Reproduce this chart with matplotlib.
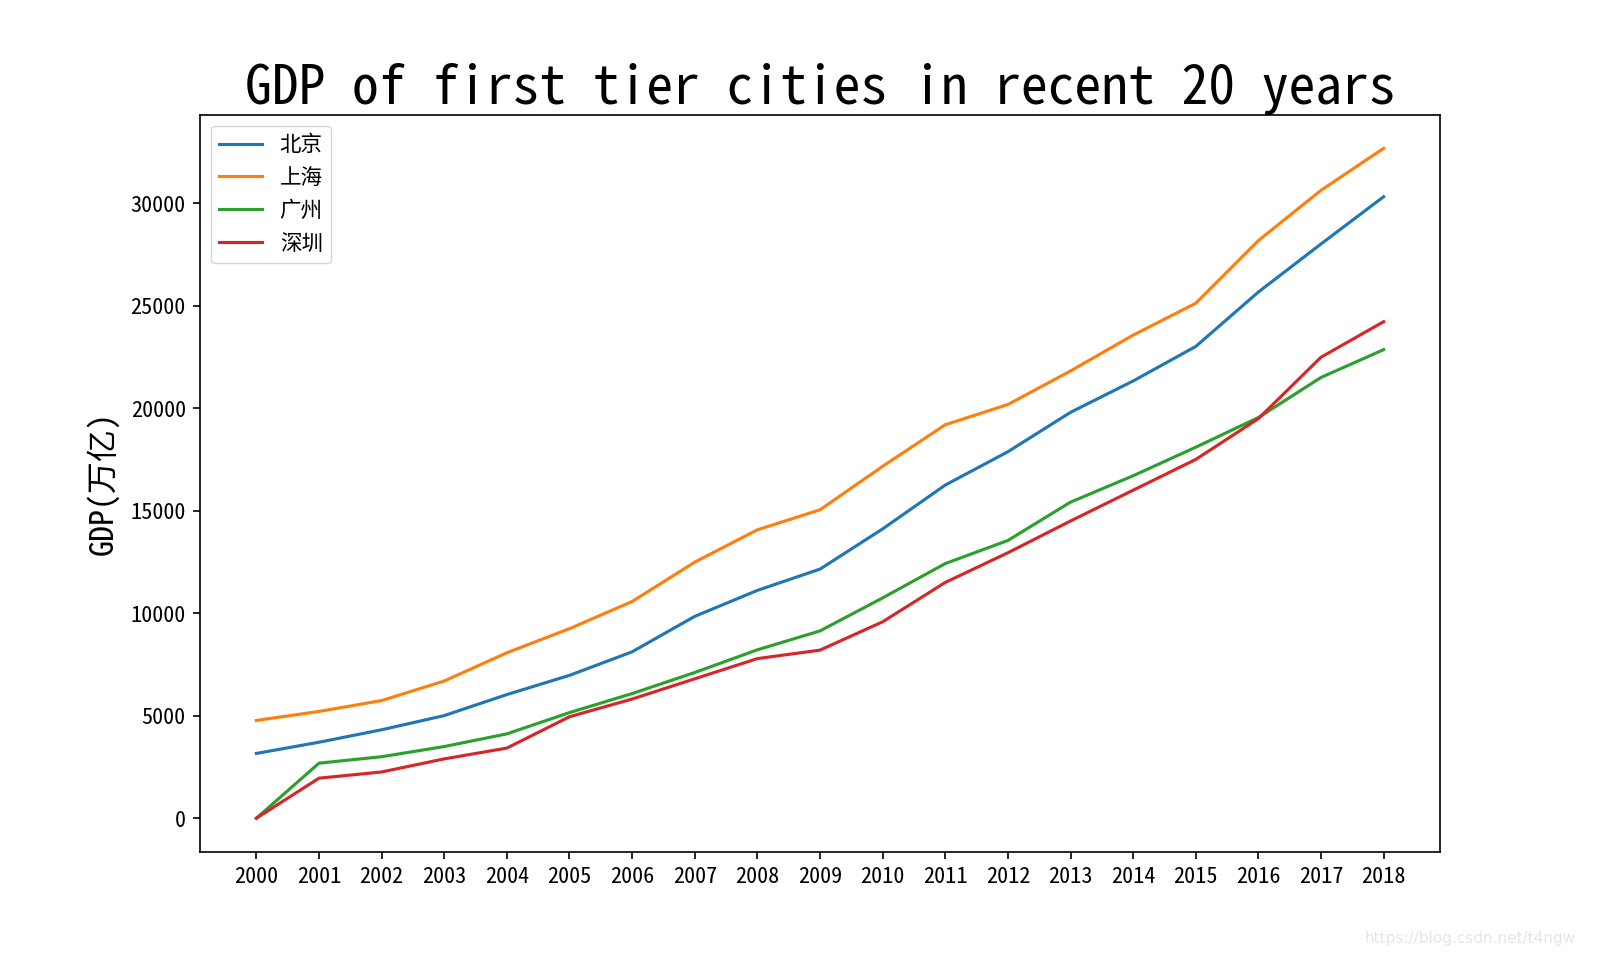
import matplotlib
matplotlib.use("Agg")
import matplotlib.pyplot as plt

plt.rcParams['font.family'] = ['Noto Sans Mono CJK SC', 'Noto Sans CJK SC', 'DejaVu Sans']
plt.rcParams['axes.unicode_minus'] = False

years = list(range(2000, 2019))
cities = ['北京', '上海', '广州', '深圳']
beijing = [3161, 3708, 4315, 5007, 6033, 6970, 8118, 9847, 11115, 12153,
           14114, 16252, 17879, 19801, 21331, 23015, 25669, 28015, 30320]
shanghai = [4771, 5210, 5741, 6694, 8073, 9248, 10572, 12494, 14070, 15046,
            17166, 19196, 20182, 21818, 23568, 25123, 28179, 30633, 32680]
guangzhou = [0, 2686, 3001, 3497, 4116, 5154, 6081, 7109, 8216, 9138,
             10748, 12423, 13551, 15420, 16707, 18100, 19547, 21503, 22859]
shenzhen = [0, 1954, 2257, 2895, 3422, 4951, 5814, 6801, 7787, 8201,
            9582, 11502, 12950, 14500, 16002, 17503, 19493, 22490, 24222]
series = [beijing, shanghai, guangzhou, shenzhen]

title = 'GDP of first tier cities in recent 20 years'
ylabel = 'GDP(万亿)'
watermark = 'https://blog.csdn.net/t4ngw'

fig = plt.figure(figsize=(16, 9.57), dpi=100)
ax = fig.add_subplot(111)
for name, vals in zip(cities, series):
    ax.plot(years, vals, label=name, linewidth=2.25)

ax.set_xticks(years)
ax.set_xticklabels([str(y) for y in years])
ax.tick_params(labelsize=16, width=1.2, length=5.25, pad=5)
for s in ax.spines.values():
    s.set_linewidth(1.2)
ax.set_title(title, fontsize=38.5, pad=8)
ax.set_ylabel(ylabel, fontsize=23, labelpad=8)
ax.legend(loc='upper left', fontsize=15.5)
fig.text(0.985, 0.012, watermark, ha='right', va='bottom', fontsize=11,
         color='#e6e6e6', family=['DejaVu Sans'])

fig.savefig('out.png', dpi=100)
